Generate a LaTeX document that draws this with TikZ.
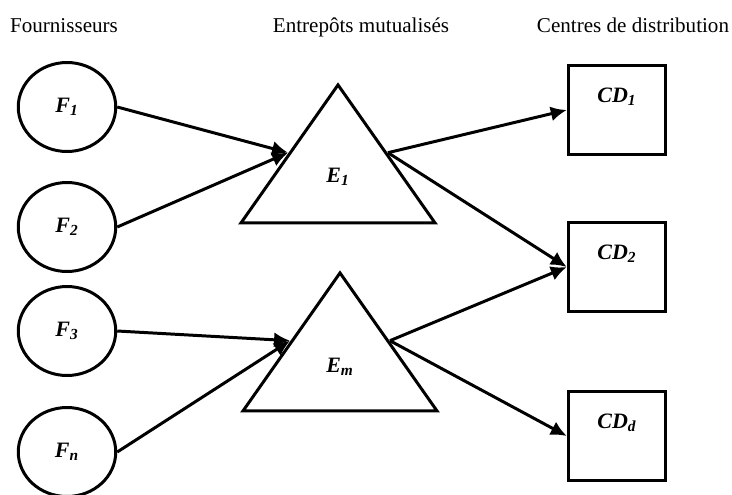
\documentclass[tikz,border=0pt]{standalone}
\usepackage{fontspec}
\setmainfont{Liberation Serif}
\usetikzlibrary{shapes.geometric,arrows.meta}
\begin{document}
\begin{tikzpicture}[x=0.02cm,y=-0.02cm]
    \tikzstyle{fourn} = [ellipse, draw, line width=1.7pt,
    minimum width=1.95cm, minimum height=1.78cm, inner sep=0pt];
    \tikzstyle{entrep} = [isosceles triangle, isosceles triangle stretches,
    shape border rotate=90, draw, line width=1.7pt,
    minimum width=3.88cm, minimum height=2.76cm, inner sep=0pt];
    \tikzstyle{centre} = [rectangle, draw, line width=1.7pt,
    minimum width=1.95cm, minimum height=1.78cm];
    \tikzstyle{lbl} = [font=\fontsize{12.5}{14}\selectfont\bfseries\itshape];
    \tikzstyle{titre} = [font=\fontsize{12}{14}\selectfont, anchor=base];
    \tikzstyle{arr} = [line width=1.7pt, -{Latex[length=0.32cm,width=0.3cm]}];

    \useasboundingbox (0,0) rectangle (732,494);

    \node[titre] (t1) at (64,32) {Fournisseurs};
    \node[titre] (t2) at (361,32) {Entrepôts mutualisés};
    \node[titre] (t3) at (633,32) {Centres de distribution};

    \node[fourn,lbl] (F1) at (67,107) {F\textsubscript{1}};
    \node[fourn,lbl] (F2) at (67,227) {F\textsubscript{2}};
    \node[fourn,lbl] (F3) at (67,331) {F\textsubscript{3}};
    \node[fourn,lbl] (Fn) at (67,452) {F\textsubscript{n}};

    \node[entrep,anchor=apex] (E1) at (338,81) {};
    \node[entrep,anchor=apex] (Em) at (340,269) {};
    \node[lbl] (e1) at (338,177) {E\textsubscript{1}};
    \node[lbl] (em) at (340,367) {E\textsubscript{m}};

    \node[centre, label={[lbl,yshift=0.26cm]center:CD\textsubscript{1}}] (CD1) at (617,110) {};
    \node[centre, label={[lbl,yshift=0.26cm]center:CD\textsubscript{2}}] (CD2) at (617,267) {};
    \node[centre, label={[lbl,yshift=0.26cm]center:CD\textsubscript{d}}] (CDd) at (617,436) {};

    \path[arr] (F1.east) edge (E1.left side)
               (F2.east) edge (E1.left side)
               (F3.east) edge (Em.left side)
               (Fn.east) edge (Em.left side)
               (E1.right side) edge (CD1.west)
                               edge (CD2.west)
               (Em.right side) edge (CD2.west)
                               edge (CDd.west);

\end{tikzpicture}
\end{document}
